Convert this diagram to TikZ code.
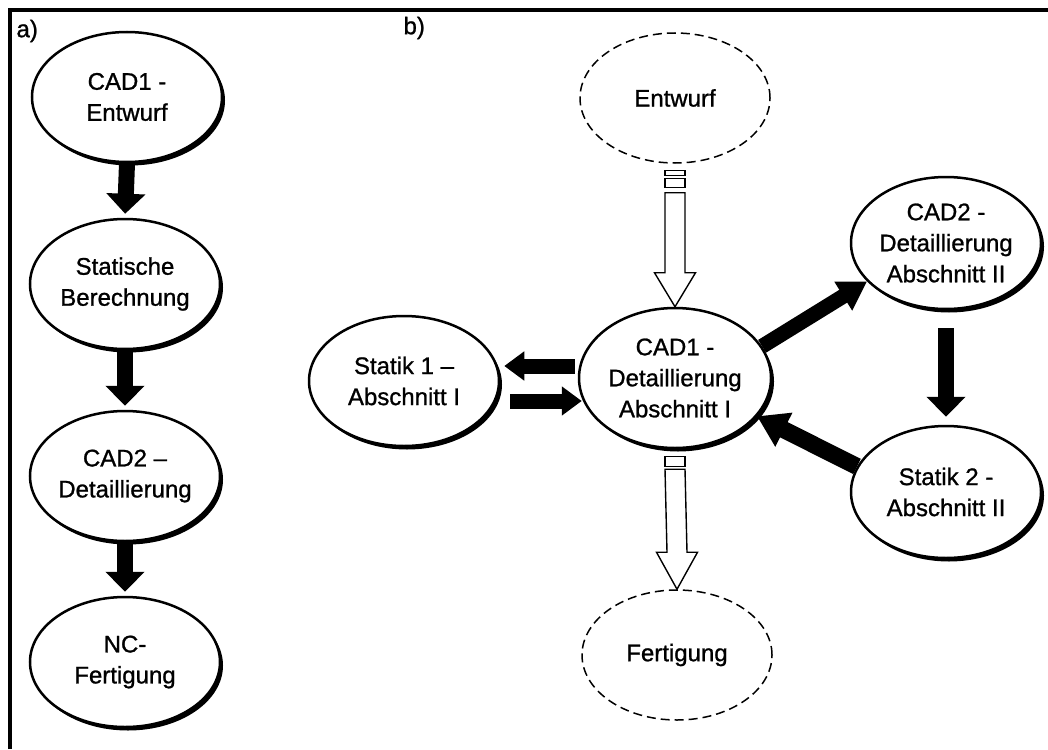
\documentclass[tikz,border=0pt]{standalone}
\usepackage{fontspec}
\setmainfont{Liberation Sans}
\newfontfamily\labelfont{Liberation Sans}[FakeBold=1]
\usetikzlibrary{shapes.geometric,arrows.meta,shadows,calc}
\begin{document}
\begin{tikzpicture}[x=1pt,y=-1pt,
  every node/.style={font=\labelfont\fontsize{24}{31}\selectfont},
  stage/.style={ellipse, draw, line width=2.5pt, fill=white, align=center,
    inner sep=0pt, minimum width=190pt, minimum height=130pt,
    drop shadow={shadow xshift=3pt, shadow yshift=-3.5pt, opacity=1, fill=black}},
  extstage/.style={ellipse, draw, line width=1.5pt, dash pattern=on 9pt off 5pt,
    align=center, inner sep=0pt, minimum width=190pt, minimum height=130pt},
  flow/.style={line width=16pt, -{Triangle[width=38pt,length=20pt]}},
  sideflow/.style={line width=15pt, -{Triangle[width=28pt,length=20pt]}},
  diagflow/.style={line width=15pt, -{Triangle[width=32pt,length=28pt]}},
  openarrow/.style={draw, line width=1.4pt, fill=white, line join=miter},
  tag/.style={anchor=west, font=\labelfont\fontsize{24}{26}\selectfont},
]
\useasboundingbox (0,0) rectangle (1048,749);
\fill[white] (0,0) rectangle (1048,749);

% frame
\draw[line width=3.5pt] (10,749) -- (10,10) -- (1048,10);

% panel labels
\node[tag] (la) at (13,31) {a)};
\node[tag] (lb) at (400,28) {b)};

% a) sequential process
\node[stage] (a1) at (127,97) {CAD1 -\\Entwurf};
\node[stage] (a2) at (125,284) {Statische\\Berechnung};
\node[stage] (a3) at (125,476) {CAD2 –\\Detaillierung};
\node[stage] (a4) at (125,662) {NC-\\Fertigung};

\draw[flow, shorten >=4pt] (a1.south) -- (a2.north);
\draw[flow, shorten >=4pt] (a2.south) -- (a3.north);
\draw[flow, shorten >=4pt] (a3.south) -- (a4.north);

% b) iterative process
\node[extstage] (e) at (675,98) {Entwurf};
\node[stage, minimum width=192pt, minimum height=140pt] (c1) at (675,378) {CAD1 -\\Detaillierung\\Abschnitt I};
\node[extstage] (f) at (677,655) {Fertigung};
\node[stage] (s1) at (404,381) {Statik 1 –\\Abschnitt I};
\node[stage, minimum height=132pt] (c2) at (946,243) {CAD2 -\\Detaillierung\\Abschnitt II};
\node[stage, minimum height=132pt] (s2) at (946,492) {Statik 2 -\\Abschnitt II};

% exchange with Statik 1
\draw[sideflow, shorten >=4pt] ([xshift=-3pt,yshift=15pt]s1.east -| c1.west) -- ([yshift=15pt]s1.east);
\draw[sideflow] ([xshift=10pt,yshift=-20pt]s1.east) -- ([xshift=4pt,yshift=-20pt]s1.east -| c1.west);

% loop over section II
\draw[diagflow] (c1.20) -- (c2.206);
\draw[flow, shorten <=18pt, shorten >=8pt] (c2.south) -- (s2.north);
\draw[diagflow, line width=17pt, -{Triangle[width=36pt,length=30pt]}] (s2.164) -- (c1.335);

% open arrow from Entwurf
\draw[openarrow] ($(e.south)+(-10,7)$) rectangle ($(e.south)+(10,12)$);
\draw[openarrow] ($(e.south)+(-10,15)$) rectangle ($(e.south)+(10,24)$);
\draw[openarrow] ($(e.south)+(-10,29)$) -- ($(c1.north)+(-10,-34)$) -- ($(c1.north)+(-20.5,-34)$)
  -- (c1.north) -- ($(c1.north)+(20.5,-34)$) -- ($(c1.north)+(10,-34)$) -- ($(e.south)+(10,29)$) -- cycle;

% open arrow to Fertigung
\draw[openarrow] ($(c1.south)+(-10,7)$) rectangle ($(c1.south)+(10,17)$);
\draw[openarrow] ($(c1.south)+(-10,20)$) -- ($(f.north)+(-10,-37)$) -- ($(f.north)+(-20.5,-37)$)
  -- (f.north) -- ($(f.north)+(20.5,-37)$) -- ($(f.north)+(10,-37)$) -- ($(c1.south)+(10,20)$) -- cycle;
\end{tikzpicture}
\end{document}
